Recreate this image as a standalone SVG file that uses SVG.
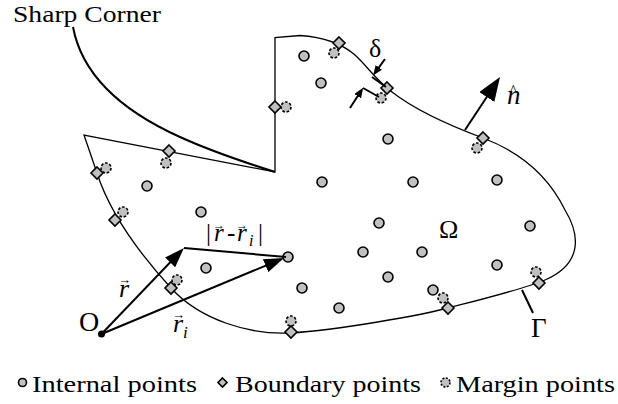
<svg xmlns="http://www.w3.org/2000/svg" width="618" height="404" viewBox="0 0 618 404">
<style>
.ip{fill:#c0c0c0;stroke:#000;stroke-width:1.6}
.bp{fill:#c0c0c0;stroke:#000;stroke-width:1.6}
.mp{fill:#c0c0c0;stroke:#000;stroke-width:1.6;stroke-dasharray:2.6 1.8}
text{font-family:'Liberation Serif','Times New Roman',serif;fill:#000}
.m{font-style:italic}
.ln{fill:none;stroke:#000;stroke-width:2}
</style>
<defs>
<marker id="ah" markerUnits="userSpaceOnUse" markerWidth="20" markerHeight="14" refX="14" refY="7" orient="auto"><path d="M0,0 L20,7 L0,14 z"/></marker>
<marker id="ahn" markerUnits="userSpaceOnUse" markerWidth="24" markerHeight="18" refX="18" refY="9" orient="auto"><path d="M0,0 L24,9 L0,18 z"/></marker>
<marker id="ahs" markerUnits="userSpaceOnUse" markerWidth="10" markerHeight="8" refX="7" refY="4" orient="auto"><path d="M0,0 L10,4 L0,8 z"/></marker>
<polygon id="dia" points="0,-6 6,0 0,6 -6,0"/>
<polygon id="dias" points="0,-4.5 4.5,0 0,4.5 -4.5,0"/>
</defs>

<g id="domain">
<path class="ln" style="stroke-width:1.3" d="M275,172 L275,37.5 L300,35.5 C322,37 340,42 355,55 C368,67 376,80 392,92 C410,106 440,122 483,138 C520,152 548,175 565,210 C582,238 580,265 545,280 C524,289 475,301 448,308 C421,315 340,330 290,333 C250,335 200,320 171,288 C150,265 112,220 97,173 L84,135 Z"/>
</g>

<g id="sharp-corner">
<path class="ln" d="M73,27 C82,75 120,110 180,137 C215,153 250,164 275,172"/>
<text x="13" y="22" font-size="23" textLength="148" lengthAdjust="spacingAndGlyphs">Sharp Corner</text>
</g>

<g id="margin-points">
<circle id="m1" class="mp" cx="334" cy="53" r="5"/>
<circle id="m2" class="mp" cx="381" cy="98" r="5"/>
<circle id="m3" class="mp" cx="477" cy="148" r="5"/>
<circle id="m4" class="mp" cx="536" cy="272" r="5"/>
<circle id="m5" class="mp" cx="443" cy="298" r="5"/>
<circle id="m6" class="mp" cx="291" cy="321" r="5"/>
<circle id="m7" class="mp" cx="177" cy="280" r="5"/>
<circle id="m8" class="mp" cx="123" cy="212" r="5"/>
<circle id="m9" class="mp" cx="106" cy="168" r="5"/>
<circle id="m10" class="mp" cx="166" cy="163" r="5"/>
<circle id="m11" class="mp" cx="286" cy="107" r="5"/>
</g>

<g id="boundary-points">
<use id="b1" class="bp" href="#dia" x="339" y="43"/>
<use id="b2" class="bp" href="#dia" x="387" y="88"/>
<use id="b3" class="bp" href="#dia" x="483" y="138"/>
<use id="b4" class="bp" href="#dia" x="539" y="283"/>
<use id="b5" class="bp" href="#dia" x="448" y="308"/>
<use id="b6" class="bp" href="#dia" x="291" y="332"/>
<use id="b7" class="bp" href="#dia" x="171" y="288"/>
<use id="b8" class="bp" href="#dia" x="115" y="220"/>
<use id="b9" class="bp" href="#dia" x="97" y="173"/>
<use id="b10" class="bp" href="#dia" x="169" y="151"/>
<use id="b11" class="bp" href="#dia" x="275" y="107"/>
</g>

<g id="internal-points">
<circle id="i1" class="ip" cx="304" cy="56" r="5"/>
<circle id="i2" class="ip" cx="321" cy="83" r="5"/>
<circle id="i3" class="ip" cx="388" cy="139" r="5"/>
<circle id="i4" class="ip" cx="322" cy="182" r="5"/>
<circle id="i5" class="ip" cx="413" cy="182" r="5"/>
<circle id="i6" class="ip" cx="497" cy="180" r="5"/>
<circle id="i7" class="ip" cx="147" cy="186" r="5"/>
<circle id="i8" class="ip" cx="201" cy="212" r="5"/>
<circle id="i9" class="ip" cx="288" cy="257" r="5"/>
<circle id="i10" class="ip" cx="206" cy="268" r="5"/>
<circle id="i11" class="ip" cx="302" cy="288" r="5"/>
<circle id="i12" class="ip" cx="379" cy="223" r="5"/>
<circle id="i13" class="ip" cx="363" cy="252" r="5"/>
<circle id="i14" class="ip" cx="422" cy="252" r="5"/>
<circle id="i15" class="ip" cx="388" cy="277" r="5"/>
<circle id="i16" class="ip" cx="339" cy="308" r="5"/>
<circle id="i17" class="ip" cx="433" cy="290" r="5"/>
<circle id="i18" class="ip" cx="497" cy="265" r="5"/>
<circle id="i19" class="ip" cx="530" cy="226" r="5"/>
</g>

<g id="origin">
<circle cx="101.5" cy="334" r="3.5" fill="#000"/>
<text x="79" y="331" font-size="28">O</text>
</g>

<g id="connectors">
<line class="ln" x1="101.5" y1="334" x2="179.8" y2="252.3" marker-end="url(#ah)"/>
<line class="ln" x1="101.5" y1="334" x2="278.5" y2="260.3" marker-end="url(#ah)"/>
<line class="ln" x1="184" y1="248" x2="286" y2="257"/>
<line class="ln" x1="465" y1="130" x2="496.7" y2="82" marker-end="url(#ahn)"/>
<line class="ln" x1="385" y1="59" x2="374.8" y2="73.1" marker-end="url(#ahs)"/>
<line class="ln" x1="350" y1="108" x2="361.5" y2="90.3" marker-end="url(#ahs)"/>
<line class="ln" x1="372" y1="77" x2="386" y2="87"/>
<line class="ln" x1="363" y1="88" x2="379" y2="97"/>
<line class="ln" x1="522" y1="290" x2="533" y2="313"/>
</g>

<g id="labels">
<text x="369" y="57" font-size="26">δ</text>
<text x="507" y="104" font-size="27"><tspan class="m">n</tspan><tspan font-size="16" dx="-11" dy="-8">^</tspan></text>
<text x="439" y="238" font-size="26">Ω</text>
<text x="531" y="337" font-size="27">Γ</text>
<text x="118" y="297" font-size="26"><tspan class="m">r</tspan><tspan font-size="13" dx="-11" dy="-13">→</tspan></text>
<text x="172" y="332" font-size="26"><tspan class="m">r</tspan><tspan font-size="13" dx="-11" dy="-13">→</tspan><tspan class="m" font-size="17" dx="-2" dy="19">i</tspan></text>
<text x="206" y="241" font-size="25"><tspan>|</tspan><tspan class="m" x="214">r</tspan><tspan font-size="12" x="213" dy="-12">→</tspan><tspan x="227" dy="12">-</tspan><tspan class="m" x="237">r</tspan><tspan font-size="12" x="236" dy="-12">→</tspan><tspan class="m" font-size="16" x="249" dy="17">i</tspan><tspan x="258" dy="-5">|</tspan></text>
</g>

<g id="legend">
<circle class="ip" cx="22.5" cy="382.5" r="4"/>
<text x="32" y="392" font-size="23" textLength="165" lengthAdjust="spacingAndGlyphs">Internal points</text>
<use class="bp" href="#dias" x="222.5" y="382.5"/>
<text x="235" y="392" font-size="23" textLength="186" lengthAdjust="spacingAndGlyphs">Boundary points</text>
<circle class="mp" cx="445.5" cy="382.5" r="4.5" style="stroke-dasharray:2 1.5"/>
<text x="456" y="392" font-size="23" textLength="159" lengthAdjust="spacingAndGlyphs">Margin points</text>
</g>
</svg>
